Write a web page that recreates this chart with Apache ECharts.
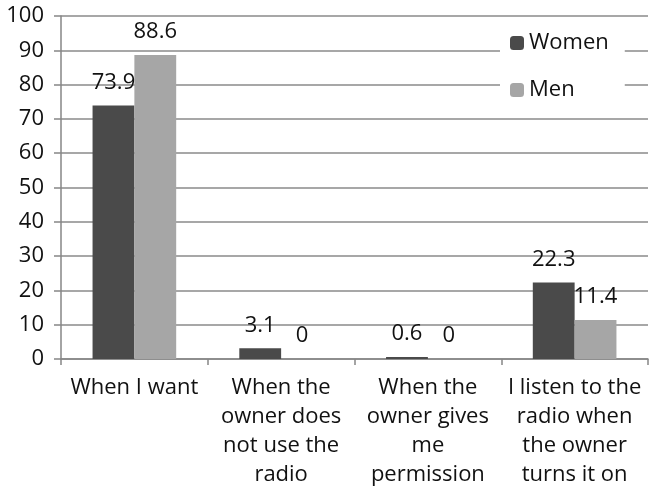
<!DOCTYPE html>
<html>
<head>
<meta charset="utf-8">
<script src="https://cdn.jsdelivr.net/npm/echarts@6/dist/echarts.min.js"></script>
<style>
  html, body { margin: 0; padding: 0; background: #fff; }
  #chart { width: 654px; height: 489px; }
</style>
</head>
<body>
<div id="chart"></div>
<script>
// Answers to "when do you listen to the radio", by gender (%)
const categories = [
  'When I want',
  'When the\nowner does\nnot use the\nradio',
  'When the\nowner gives\nme\npermission',
  'I listen to the\nradio when\nthe owner\nturns it on'
];
const women = [73.9, 3.1, 0.6, 22.3];
const men = [88.6, 0, 0, 11.4];
const yTicks = { min: 0, max: 100, interval: 10 };

const FONT = '"Open Sans", "DejaVu Sans", sans-serif';
const FS = 22;
const chart = echarts.init(document.getElementById('chart'), null, { renderer: 'canvas' });

const labelStyle = {
  show: true,
  position: 'top',
  distance: 12,
  color: '#111',
  fontSize: FS,
  fontFamily: FONT
};

chart.setOption({
  backgroundColor: '#ffffff',
  animation: false,
  grid: { left: 61, right: 6, top: 16, bottom: 130, containLabel: false },
  legend: {
    orient: 'vertical',
    left: 500,
    top: 22,
    padding: [10, 16, 10, 10],
    itemGap: 25,
    itemWidth: 14,
    itemHeight: 14,
    backgroundColor: '#ffffff',
    textStyle: { fontSize: FS, fontFamily: FONT, color: '#111' },
    data: ['Women', 'Men']
  },
  xAxis: {
    type: 'category',
    data: categories,
    axisLine: { lineStyle: { color: '#868686', width: 1.5 } },
    axisTick: { show: true, length: 6, alignWithLabel: false, lineStyle: { color: '#868686', width: 1.5 } },
    axisLabel: {
      interval: 0,
      margin: 14,
      fontSize: FS,
      lineHeight: 29,
      fontFamily: FONT,
      color: '#111',
      align: 'center'
    },
    splitLine: { show: false }
  },
  yAxis: {
    type: 'value',
    min: yTicks.min,
    max: yTicks.max,
    interval: yTicks.interval,
    axisLine: { show: true, lineStyle: { color: '#868686', width: 1.5 } },
    axisTick: { show: true, length: 7, lineStyle: { color: '#868686', width: 1.5 } },
    axisLabel: { margin: 17, fontSize: FS, fontFamily: FONT, color: '#111' },
    splitLine: { show: true, lineStyle: { color: '#8a8a8a', width: 1.5 } }
  },
  series: [
    {
      name: 'Women',
      type: 'bar',
      data: women,
      barGap: '0%',
      barCategoryGap: '43%',
      itemStyle: { color: '#4a4a4a' },
      label: labelStyle
    },
    {
      name: 'Men',
      type: 'bar',
      data: men,
      itemStyle: { color: '#a6a6a6' },
      label: labelStyle
    }
  ]
});
</script>
</body>
</html>
